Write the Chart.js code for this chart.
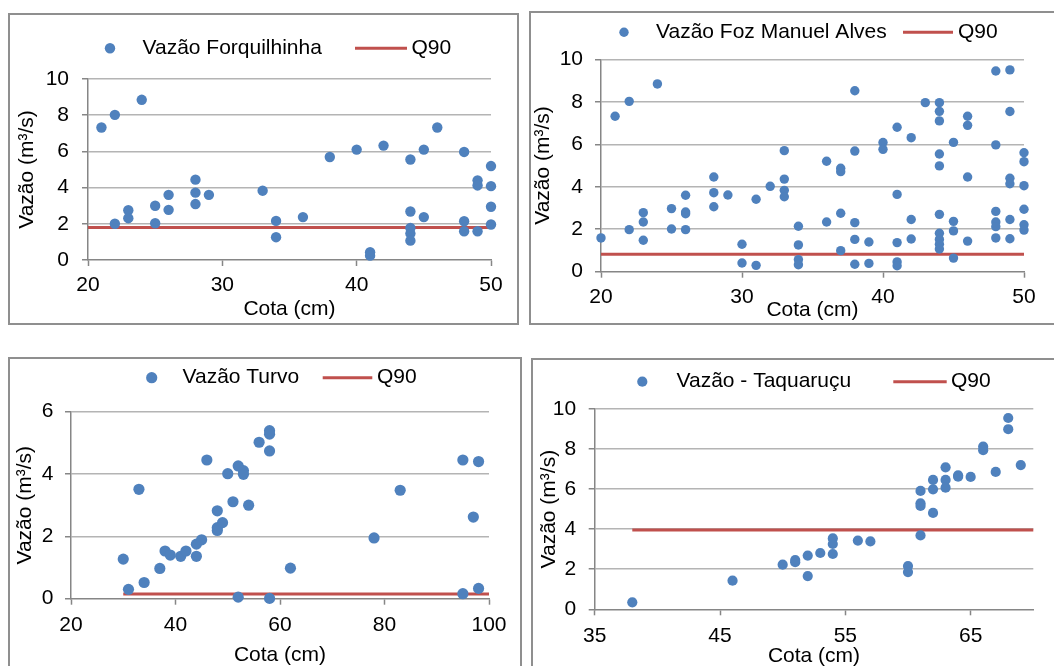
<!DOCTYPE html>
<html>
<head>
<meta charset="utf-8">
<script src="https://cdn.jsdelivr.net/npm/chart.js@4.4.1/dist/chart.umd.min.js"></script>
<style>
  html, body { margin: 0; padding: 0; background: #fff; }
  body { width: 1054px; height: 666px; position: relative; overflow: hidden; }
  .frame { position: absolute; box-sizing: border-box; border: 2px solid #8f8f8f; }
  canvas { position: absolute; }
</style>
</head>
<body>
<div class="frame" style="left:8px;top:13px;width:511px;height:312px"></div>
<div class="frame" style="left:529px;top:11px;width:600px;height:314px"></div>
<div class="frame" style="left:8px;top:357px;width:514px;height:400px"></div>
<div class="frame" style="left:531px;top:358px;width:600px;height:400px"></div>

<canvas id="forquilhinha" width="511" height="311" style="left:8px;top:13px"></canvas>
<canvas id="manuelAlves" width="525" height="313" style="left:529px;top:11px"></canvas>
<canvas id="turvo" width="513" height="322" style="left:8px;top:358px"></canvas>
<canvas id="taquarucu" width="522" height="321" style="left:532px;top:359px"></canvas>

<script>
// Forquilhinha
const cota1 = [21, 22, 22, 23, 23, 24, 25, 25, 26, 26, 28, 28, 28, 29, 33, 34, 34, 36, 38, 40,
  41, 41, 42, 44, 44, 44, 44, 44, 45, 45, 46, 48, 48, 48, 49, 49, 49, 50, 50, 50, 50];
const vazao1 = [7.32, 8.02, 2.0, 2.75, 2.31, 8.85, 3.0, 2.03, 3.6, 2.77, 4.44, 3.72, 3.09, 3.6, 3.83, 2.16, 1.26, 2.37, 5.69, 6.1,
  0.43, 0.24, 6.32, 5.55, 2.68, 1.77, 1.46, 1.07, 6.1, 2.37, 7.32, 5.97, 2.14, 1.59, 4.4, 4.12, 1.59, 5.19, 4.08, 2.94, 1.96];
const q90Value1 = 1.8;
const q90Cota1 = [20, 50];
const xTicks1 = [20, 30, 40, 50];
const yTicks1 = [0, 2, 4, 6, 8, 10];

// Foz Manuel Alves
const cota2 = [20, 21, 22, 22, 23, 23, 23, 24, 25, 25, 26, 26, 26, 26, 28, 28, 28, 29, 30, 30,
  31, 31, 32, 33, 33, 33, 33, 34, 34, 34, 34, 36, 36, 37, 37, 37, 37, 38, 38, 38,
  38, 38, 39, 39, 40, 40, 41, 41, 41, 41, 41, 42, 42, 42, 43, 44, 44, 44, 44, 44,
  44, 44, 44, 44, 44, 45, 45, 45, 45, 46, 46, 46, 46, 48, 48, 48, 48, 48, 48, 49,
  49, 49, 49, 49, 49, 50, 50, 50, 50, 50, 50];
const vazao2 = [1.59, 7.32, 8.02, 1.98, 2.78, 2.34, 1.48, 8.84, 2.97, 2.01, 3.6, 2.81, 2.73, 1.98, 4.46, 3.72, 3.06, 3.61, 1.29, 0.41,
  3.41, 0.3, 4.02, 5.7, 4.36, 3.83, 3.53, 2.14, 1.26, 0.57, 0.33, 5.2, 2.34, 4.87, 4.71, 2.75, 0.99, 8.52, 5.68, 2.31,
  1.52, 0.35, 1.4, 0.39, 6.08, 5.76, 6.8, 3.64, 1.37, 0.46, 0.28, 6.31, 2.46, 1.54, 7.96, 7.96, 7.55, 7.1, 5.54, 4.98,
  2.7, 1.81, 1.52, 1.29, 1.07, 6.09, 2.37, 1.92, 0.64, 7.32, 6.89, 4.46, 1.44, 9.45, 5.97, 2.84, 2.34, 2.12, 1.59, 9.5,
  7.54, 4.4, 4.14, 2.46, 1.55, 5.6, 5.18, 4.05, 2.94, 2.21, 1.96];
const q90Value2 = 0.82;
const q90Cota2 = [20, 50];
const xTicks2 = [20, 30, 40, 50];
const yTicks2 = [0, 2, 4, 6, 8, 10];

// Turvo
const cota3 = [30, 31, 33, 34, 37, 38, 39, 41, 42, 44, 44, 45, 46, 48, 48, 48, 49, 50, 51, 52,
  52, 53, 53, 54, 56, 58, 58, 58, 58, 62, 78, 83, 95, 95, 97, 98, 98];
const vazao3 = [1.27, 0.3, 3.51, 0.52, 0.97, 1.53, 1.4, 1.36, 1.53, 1.75, 1.36, 1.89, 4.45, 2.82, 2.28, 2.19, 2.44, 4.01, 3.11, 4.26,
  0.05, 4.11, 3.99, 3.0, 5.02, 5.39, 5.28, 4.74, 0.01, 0.98, 1.95, 3.48, 4.45, 0.16, 2.62, 4.4, 0.33];
const q90Value3 = 0.15;
const q90Cota3 = [30, 100];
const xTicks3 = [20, 40, 60, 80, 100];
const yTicks3 = [0, 2, 4, 6];

// Taquaruçu
const cota4 = [38, 46, 50, 51, 51, 52, 52, 53, 54, 54, 54, 56, 57, 60, 60, 61, 61, 61, 61, 62,
  62, 62, 63, 63, 63, 64, 64, 65, 66, 66, 67, 68, 68, 69];
const vazao4 = [0.35, 1.43, 2.23, 2.35, 2.46, 2.68, 1.66, 2.81, 3.54, 3.26, 2.76, 3.43, 3.39, 2.16, 1.86, 5.91, 5.29, 5.16, 3.69, 6.46,
  5.99, 4.81, 7.09, 6.46, 6.07, 6.69, 6.62, 6.61, 8.12, 7.94, 6.86, 9.55, 8.99, 7.2];
const q90Value4 = 3.96;
const q90Cota4 = [38, 70];
const xTicks4 = [35, 45, 55, 65];
const yTicks4 = [0, 2, 4, 6, 8, 10];

const FONT = 'Liberation Sans';
const FONT_SIZE = 21;
const BLUE = '#4F81BD';
const RED = '#C0504D';
const AXIS = '#868686';
const GRID = '#B4B4B4';

const pairs = (xs, ys) => xs.map((x, i) => ({ x, y: ys[i] }));

// Excel style legend: dot sample, label, line sample, "Q90"
const xlLegend = {
  id: 'xlLegend',
  afterDraw(chart, args, o) {
    const ctx = chart.ctx;
    ctx.save();
    ctx.fillStyle = BLUE;
    ctx.beginPath();
    ctx.arc(o.dotX, o.y, o.dotR, 0, Math.PI * 2);
    ctx.fill();
    ctx.strokeStyle = RED;
    ctx.lineWidth = 3;
    ctx.beginPath();
    ctx.moveTo(o.lineX1, o.y);
    ctx.lineTo(o.lineX2, o.y);
    ctx.stroke();
    ctx.font = `${FONT_SIZE}px "${FONT}"`;
    ctx.textBaseline = 'middle';
    ctx.fillStyle = '#000';
    ctx.fillText(o.label, o.textX, o.y);
    ctx.fillText('Q90', o.q90X, o.y);
    ctx.restore();
  }
};

function panel(id, p) {
  const el = document.getElementById(id);
  const left = el.offsetLeft, top = el.offsetTop;
  const w = el.width, h = el.height;
  const tickFont = { family: FONT, size: FONT_SIZE };

  new Chart(el, {
    type: 'scatter',
    data: {
      datasets: [{
        label: p.label,
        data: pairs(p.cota, p.vazao),
        backgroundColor: BLUE,
        borderWidth: 0,
        pointRadius: p.r,
        pointHoverRadius: p.r,
        clip: false
      }, {
        label: 'Q90',
        data: pairs(p.q90Cota, [p.q90, p.q90]),
        showLine: true,
        borderColor: RED,
        borderWidth: 3,
        pointRadius: 0,
        clip: false
      }]
    },
    options: {
      responsive: false,
      animation: false,
      devicePixelRatio: 1,
      events: [],
      layout: {
        padding: { left: 0, bottom: 0, top: p.area[1] - top, right: left + w - p.area[2] }
      },
      plugins: {
        legend: { display: false },
        tooltip: { enabled: false },
        xlLegend: {
          y: p.legend.y - top, dotX: p.legend.dot - left, dotR: p.r,
          textX: p.legend.text - left, lineX1: p.legend.line[0] - left, lineX2: p.legend.line[1] - left,
          q90X: p.legend.q90 - left, label: p.label
        }
      },
      scales: {
        x: {
          type: 'linear',
          min: p.xTicks[0], max: p.xMax,
          afterBuildTicks: s => { s.ticks = p.xTicks.map(v => ({ value: v })); },
          afterFit: s => { s.height = top + h - p.area[3]; },
          grid: { drawOnChartArea: false, tickLength: 6, tickColor: AXIS, tickWidth: 1.5 },
          border: { color: AXIS, width: 1.5 },
          ticks: { font: tickFont, color: '#000', padding: p.xPad, maxRotation: 0 },
          title: { display: true, text: 'Cota (cm)', font: tickFont, color: '#000', padding: { top: 0, bottom: p.xTitlePad } }
        },
        y: {
          min: 0, max: p.yTicks[p.yTicks.length - 1],
          afterBuildTicks: s => { s.ticks = p.yTicks.map(v => ({ value: v })); },
          afterFit: s => { s.width = p.area[0] - left; },
          grid: {
            color: c => (c.tick && c.tick.value === 0 ? 'rgba(0,0,0,0)' : GRID),
            lineWidth: 1.5, tickLength: 6, tickColor: AXIS, tickWidth: 1.5
          },
          border: { color: AXIS, width: 1.5 },
          ticks: { font: tickFont, color: '#000', padding: p.yPad },
          title: { display: true, text: 'Vazão (m³/s)', font: tickFont, color: '#000', padding: { top: p.yTitlePad, bottom: 0 } }
        }
      }
    },
    plugins: [xlLegend]
  });
}

panel('forquilhinha', {
  label: 'Vazão Forquilhinha', cota: cota1, vazao: vazao1, q90: q90Value1, q90Cota: q90Cota1,
  xTicks: xTicks1, xMax: 50, yTicks: yTicks1, r: 5.2,
  area: [88, 79, 491, 260], xPad: 6.5, yPad: 13, xTitlePad: 2.5, yTitlePad: 6.5,
  legend: { y: 48.3, dot: 110, text: 142.5, line: [355, 407], q90: 411.5 }
});

panel('manuelAlves', {
  label: 'Vazão Foz Manuel Alves', cota: cota2, vazao: vazao2, q90: q90Value2, q90Cota: q90Cota2,
  xTicks: xTicks2, xMax: 50, yTicks: yTicks2, r: 4.7,
  area: [601, 59.3, 1024, 271.7], xPad: 6.5, yPad: 12, xTitlePad: 1.5, yTitlePad: 2,
  legend: { y: 32.3, dot: 624, text: 656, line: [903, 953], q90: 958 }
});

panel('turvo', {
  label: 'Vazão Turvo', cota: cota3, vazao: vazao3, q90: q90Value3, q90Cota: q90Cota3,
  xTicks: xTicks3, xMax: 100, yTicks: yTicks3, r: 5.6,
  area: [71, 411.7, 489, 598.7], xPad: 7.5, yPad: 11.5, xTitlePad: 12.5, yTitlePad: 4.5,
  legend: { y: 377.7, dot: 151.7, text: 182.5, line: [322.7, 372.3], q90: 377 }
});

panel('taquarucu', {
  label: 'Vazão - Taquaruçu', cota: cota4, vazao: vazao4, q90: q90Value4, q90Cota: q90Cota4,
  xTicks: xTicks4, xMax: 70, yTicks: yTicks4, r: 5.1,
  area: [594.7, 409, 1033.3, 609.3], xPad: 8.5, yPad: 12.5, xTitlePad: 11.5, yTitlePad: 4.5,
  legend: { y: 381.7, dot: 642.3, text: 676.5, line: [893.3, 946.7], q90: 951 }
});
</script>
</body>
</html>
